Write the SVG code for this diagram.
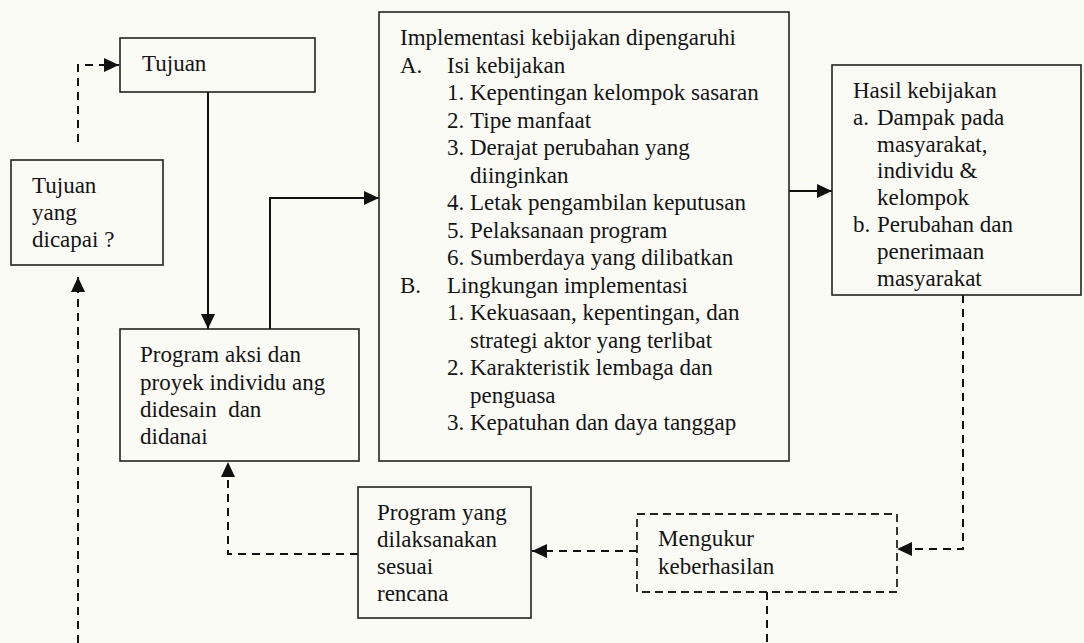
<svg xmlns="http://www.w3.org/2000/svg" width="1084" height="643" viewBox="0 0 1084 643">
<defs>
<style>
.bg{fill:#fbfbf6}
.box{fill:#fbfbf6;stroke:#222;stroke-width:1.6}
.dbox{fill:#fbfbf6;stroke:#222;stroke-width:1.8;stroke-dasharray:8,5}
.t{font-family:"Liberation Serif","Times New Roman",serif;font-size:23px;fill:#141414}
.s{fill:none;stroke:#111;stroke-width:2}
.d{fill:none;stroke:#111;stroke-width:2;stroke-dasharray:8,6}
</style>
<marker id="ah" markerUnits="userSpaceOnUse" markerWidth="16" markerHeight="14" refX="15" refY="7" orient="auto">
<path d="M0,0 L15,7 L0,14 z" fill="#111"/>
</marker>
</defs>
<rect class="bg" x="0" y="0" width="1084" height="643"/>

<g id="connectors">
<path class="s" d="M208,92 V329" marker-end="url(#ah)"/>
<path class="s" d="M270,329 V198 H379" marker-end="url(#ah)"/>
<path class="s" d="M789,191 H832" marker-end="url(#ah)"/>
<path class="d" d="M963,295 V549 H897" marker-end="url(#ah)"/>
<path class="d" d="M637,551 H532" marker-end="url(#ah)"/>
<path class="d" d="M358,554 H228 V462" marker-end="url(#ah)"/>
<path class="d" d="M767,592 V643"/>
<path class="d" d="M78,643 V277" marker-end="url(#ah)"/>
<path class="d" d="M78,142 V65 H119" marker-end="url(#ah)"/>
</g>

<g id="tujuan">
<rect class="box" x="120" y="38" width="195" height="54"/>
<text class="t" x="142" y="71">Tujuan</text>
</g>

<g id="tujuan-dicapai">
<rect class="box" x="11" y="160" width="152" height="105"/>
<text class="t"><tspan x="32" y="193">Tujuan</tspan><tspan x="32" y="220">yang</tspan><tspan x="32" y="247">dicapai ?</tspan></text>
</g>

<g id="program-aksi">
<rect class="box" x="120" y="329" width="239" height="132"/>
<text class="t" xml:space="preserve"><tspan x="140" y="362">Program aksi dan</tspan><tspan x="140" y="390">proyek individu ang</tspan><tspan x="140" y="417">didesain  dan</tspan><tspan x="140" y="444">didanai</tspan></text>
</g>

<g id="implementasi">
<rect class="box" x="379" y="12" width="410" height="449"/>
<text class="t">
<tspan x="400" y="45">Implementasi kebijakan dipengaruhi</tspan>
<tspan x="400" y="72.5">A.</tspan><tspan x="447" y="72.5">Isi kebijakan</tspan>
<tspan x="447" y="100">1.</tspan><tspan x="470" y="100">Kepentingan kelompok sasaran</tspan>
<tspan x="447" y="127.5">2.</tspan><tspan x="470" y="127.5">Tipe manfaat</tspan>
<tspan x="447" y="155">3.</tspan><tspan x="470" y="155">Derajat perubahan yang</tspan>
<tspan x="470" y="182.5">diinginkan</tspan>
<tspan x="447" y="210">4.</tspan><tspan x="470" y="210">Letak pengambilan keputusan</tspan>
<tspan x="447" y="237.5">5.</tspan><tspan x="470" y="237.5">Pelaksanaan program</tspan>
<tspan x="447" y="265">6.</tspan><tspan x="470" y="265">Sumberdaya yang dilibatkan</tspan>
<tspan x="400" y="292.5">B.</tspan><tspan x="447" y="292.5">Lingkungan implementasi</tspan>
<tspan x="447" y="320">1.</tspan><tspan x="470" y="320">Kekuasaan, kepentingan, dan</tspan>
<tspan x="470" y="347.5">strategi aktor yang terlibat</tspan>
<tspan x="447" y="375">2.</tspan><tspan x="470" y="375">Karakteristik lembaga dan</tspan>
<tspan x="470" y="402.5">penguasa</tspan>
<tspan x="447" y="430">3.</tspan><tspan x="470" y="430">Kepatuhan dan daya tanggap</tspan>
</text>
</g>

<g id="hasil">
<rect class="box" x="832" y="65" width="249" height="230"/>
<text class="t">
<tspan x="853" y="98">Hasil kebijakan</tspan>
<tspan x="853" y="125">a.</tspan><tspan x="877" y="125">Dampak pada</tspan>
<tspan x="877" y="152">masyarakat,</tspan>
<tspan x="877" y="178">individu &amp;</tspan>
<tspan x="877" y="205">kelompok</tspan>
<tspan x="853" y="232">b.</tspan><tspan x="877" y="232">Perubahan dan</tspan>
<tspan x="877" y="259">penerimaan</tspan>
<tspan x="877" y="286">masyarakat</tspan>
</text>
</g>

<g id="program-dilaksanakan">
<rect class="box" x="358" y="487" width="173" height="131"/>
<text class="t"><tspan x="377" y="520">Program yang</tspan><tspan x="377" y="547">dilaksanakan</tspan><tspan x="377" y="574">sesuai</tspan><tspan x="377" y="601">rencana</tspan></text>
</g>

<g id="mengukur">
<rect class="dbox" x="637" y="514" width="260" height="78"/>
<text class="t"><tspan x="658" y="546">Mengukur</tspan><tspan x="658" y="574">keberhasilan</tspan></text>
</g>
</svg>
